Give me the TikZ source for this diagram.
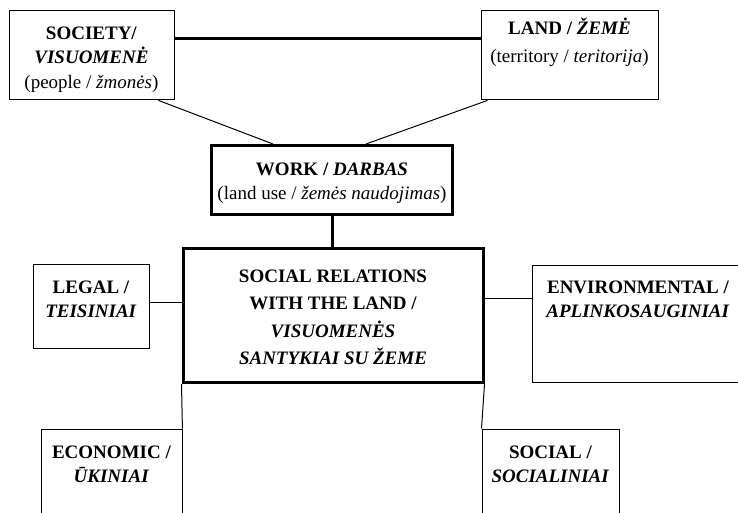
\documentclass[tikz,border=0pt]{standalone}
\usepackage{fontspec}
\setmainfont{Liberation Serif}
\usetikzlibrary{calc}

\tikzset{
  box/.style n args={3}{draw, line width=0.9pt, inner sep=0pt, anchor=north west,
    font=\fontsize{19}{24.5}\selectfont,
    execute at begin node={\begin{minipage}[t][#2][t]{#1}\centering\vspace*{#3}\strut},
    execute at end node={\end{minipage}}},
  heavy/.style={line width=3pt},
  link/.style={line width=1pt},
}

\begin{document}
\begin{tikzpicture}[x=1pt, y=-1pt]
    \clip (0,0) rectangle (738,513);

    % top row
    \node[box={165pt}{89pt}{11pt}] (society) at (8.5,10.5)
        {\textbf{SOCIETY/}\\ \textbf{\textit{VISUOMENĖ}}\\ (people / \textit{žmonės})};
    \node[box={177pt}{89pt}{6pt}] (land) at (480.5,10.5)
        {\textbf{LAND / \textit{ŽEMĖ}}\\[4pt] (territory / \textit{teritorija})};

    % middle
    \node[box={241pt}{69pt}{13pt}, heavy] (work) at (210,144)
        {\textbf{WORK / \textit{DARBAS}}\\[-1pt] (land use / \textit{žemės naudojimas})};
    \node[box={300pt}{134pt}{15pt}, heavy, font=\fontsize{19}{27.3}\selectfont] (relations) at (181.5,247)
        {\bfseries SOCIAL RELATIONS\\ WITH THE LAND /\\ \textit{VISUOMENĖS}\\ \textit{SANTYKIAI SU ŽEME}};

    % kinds of relations
    \node[box={116pt}{84pt}{12pt}] (legal) at (32.5,263.5)
        {\bfseries LEGAL /\\ \textit{TEISINIAI}};
    \node[box={212pt}{117pt}{11pt}] (environ) at (531.5,264.5)
        {\bfseries ENVIRONMENTAL /\\ \textit{APLINKOSAUGINIAI}};
    \node[box={141pt}{120pt}{12pt}] (economic) at (40.5,428.5)
        {\bfseries ECONOMIC /\\ \textit{ŪKINIAI}};
    \node[box={137pt}{120pt}{12pt}] (socialbox) at (481.5,428.5)
        {\bfseries SOCIAL /\\ \textit{SOCIALINIAI}};

    \draw[heavy, line width=3.5pt] ([yshift=-28pt]society.north east) -- ([yshift=-28pt]land.north west);
    \draw[link] ([xshift=-16pt]society.south east) -- ([xshift=63pt]work.north west);
    \draw[link] ([xshift=7pt]land.south west) -- ([xshift=-88pt]work.north east);
    \draw[heavy] (work.south) -- (work.south |- relations.north);
    \draw[link] ([yshift=3pt]legal.east) -- ([yshift=3pt]legal.east -| relations.west);
    \draw[link] ([yshift=-34pt]environ.north west) -- ([yshift=-34pt]environ.north west -| relations.east);
    \draw[link] (relations.south west) -- (economic.north east);
    \draw[link] (relations.south east) -- (socialbox.north west);
\end{tikzpicture}
\end{document}
